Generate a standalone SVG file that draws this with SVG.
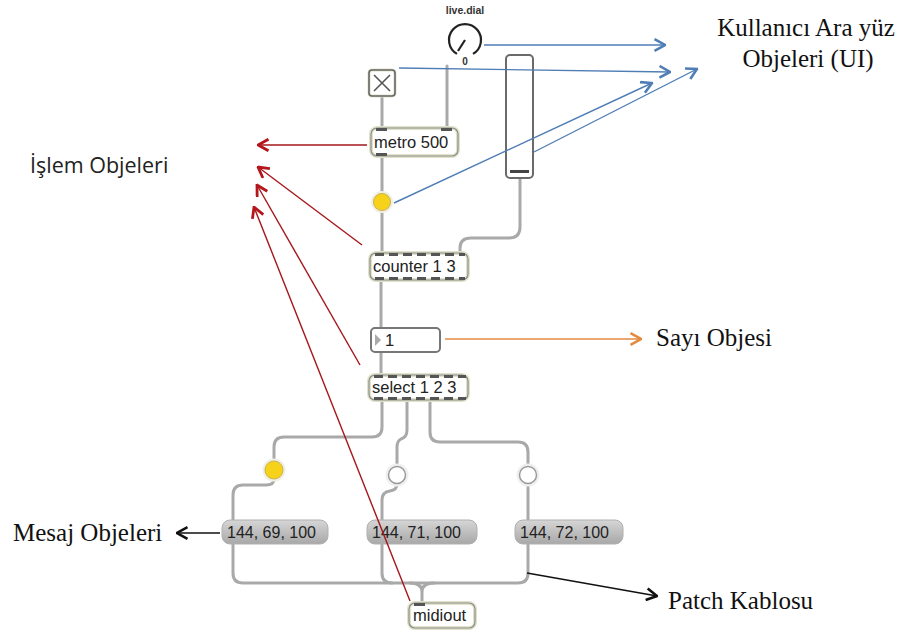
<svg xmlns="http://www.w3.org/2000/svg" width="904" height="634" viewBox="0 0 904 634">
<style>
.cable{fill:none;stroke:#a9a9a9;stroke-width:3;stroke-linecap:round;stroke-linejoin:round}
.objo{fill:#fff;stroke:#e1e2cc;stroke-width:4}
.obji{fill:none;stroke:#8e8e86;stroke-width:1.2}
.io{fill:#555}
.mt{font-family:"Liberation Sans",Arial,sans-serif;font-size:16.5px;fill:#222}
.mm{font-family:"Liberation Sans",Arial,sans-serif;font-size:16px;fill:#222}
.msg{fill:url(#mg);stroke:#b0b0b0;stroke-width:1}
.lbl{font-family:"Liberation Serif","Times New Roman",serif;font-size:25px;fill:#111}
.blue{stroke:#4f7db6;stroke-width:1.4;fill:none}
.red{stroke:#a5161c;stroke-width:1.4;fill:none}
.org{stroke:#e38a3f;stroke-width:1.6;fill:none}
.blk{stroke:#111;stroke-width:1.5;fill:none}
</style>
<defs>
<linearGradient id="mg" x1="0" y1="0" x2="0" y2="1">
<stop offset="0" stop-color="#d6d6d6"/><stop offset="1" stop-color="#a8a8a8"/>
</linearGradient>
<marker id="ab" viewBox="0 0 12 12" refX="11" refY="6" markerWidth="14" markerHeight="14" markerUnits="userSpaceOnUse" orient="auto"><path d="M2,1 L11,6 L2,11" fill="none" stroke="#4f7db6" stroke-width="2.2"/></marker>
<marker id="ar" viewBox="0 0 12 12" refX="1" refY="6" markerWidth="14" markerHeight="14" markerUnits="userSpaceOnUse" orient="auto"><path d="M10,1 L1,6 L10,11" fill="none" stroke="#b5161c" stroke-width="2.4"/></marker>
<marker id="ao" viewBox="0 0 12 12" refX="11" refY="6" markerWidth="14" markerHeight="14" markerUnits="userSpaceOnUse" orient="auto"><path d="M2,1 L11,6 L2,11" fill="none" stroke="#e38a3f" stroke-width="2.2"/></marker>
<marker id="ak" viewBox="0 0 12 12" refX="11" refY="6" markerWidth="14" markerHeight="14" markerUnits="userSpaceOnUse" orient="auto"><path d="M2,1 L11,6 L2,11" fill="none" stroke="#111" stroke-width="2.2"/></marker>
</defs>
<rect width="904" height="634" fill="#fff"/>

<g id="cables">
<path class="cable" d="M382,96 V127"/>
<path class="cable" d="M447,66 V127"/>
<path class="cable" d="M382,157 V253"/>
<path class="cable" d="M520,178 V227 Q520,238 509,238 H471 Q460,238 460,248 V253"/>
<path class="cable" d="M381,280 V328"/>
<path class="cable" d="M381,352 V375"/>
<path class="cable" d="M382,400 V427 Q382,437 372,437 H284 Q274,437 274,447 V461"/>
<path class="cable" d="M274,479 Q274,485 266,485 H243 Q233,485 233,495 V573 Q233,583 243,583 H518 Q528,583 528,573 V484"/>
<path class="cable" d="M407,400 V430 Q407,437 401,439 Q397,441 397,447 V466"/>
<path class="cable" d="M397,484 Q397,490 390,491 Q382,492 382,500 V573 Q382,583 392,583"/>
<path class="cable" d="M430,400 V432 Q430,442 440,442 H518 Q528,442 528,452 V466"/>
<path class="cable" d="M410,583 Q422,583 422,592 V603 M422,592 Q422,583 434,583"/>
</g>

<g id="live-dial">
<text x="465" y="14" text-anchor="middle" font-family="Liberation Sans,Arial,sans-serif" font-size="10.5" font-weight="bold" fill="#333">live.dial</text>
<path d="M457,53.9 A16,16 0 1 1 473,53.9" fill="none" stroke="#222" stroke-width="2.2"/>
<line x1="465" y1="40" x2="458" y2="51" stroke="#222" stroke-width="2.2"/>
<text x="465" y="65" text-anchor="middle" font-family="Liberation Sans,Arial,sans-serif" font-size="10" font-weight="bold" fill="#333">0</text>
</g>

<g id="toggle">
<rect x="369" y="70" width="26" height="26" rx="3" fill="#fff" stroke="#e1e2cc" stroke-width="3"/>
<rect x="369" y="70" width="26" height="26" rx="3" fill="none" stroke="#666" stroke-width="1.6"/>
<path d="M374,75 L390,91 M390,75 L374,91" stroke="#555" stroke-width="1.6"/>
</g>

<g id="slider">
<rect x="506" y="55" width="27" height="123" rx="4" fill="#fff" stroke="#6a6a6a" stroke-width="2"/>
<rect x="510" y="170" width="19" height="3" fill="#444"/>
</g>

<g id="metro">
<rect class="objo" x="371" y="128" width="87" height="28" rx="6"/>
<rect class="obji" x="371" y="128" width="87" height="28" rx="6"/>
<rect class="io" x="376" y="128" width="11" height="3"/>
<rect class="io" x="441" y="128" width="11" height="3"/>
<rect class="io" x="376" y="153" width="11" height="3"/>
<text class="mt" x="374" y="148">metro 500</text>
</g>

<g id="button1">
<circle cx="382" cy="202" r="11" fill="#f0efe3"/>
<circle cx="382" cy="202" r="8.5" fill="#f7d21a" stroke="#c9b24e" stroke-width="1"/>
</g>

<g id="counter">
<rect class="objo" x="370" y="253" width="98" height="27" rx="6"/>
<rect class="obji" x="370" y="253" width="98" height="27" rx="6"/>
<path d="M375,254.5 H465" stroke="#555" stroke-width="3" stroke-dasharray="9,5"/>
<path d="M375,278.5 H465" stroke="#555" stroke-width="3" stroke-dasharray="9,5"/>
<text class="mt" x="373" y="272">counter 1 3</text>
</g>

<g id="number">
<rect x="371" y="328" width="69" height="24" rx="4" fill="#fff" stroke="#777" stroke-width="2"/>
<path d="M375,334 L381,340 L375,346 Z" fill="#aaa"/>
<text class="mt" x="385" y="346">1</text>
</g>

<g id="select">
<rect class="objo" x="369" y="375" width="99" height="25" rx="6"/>
<rect class="obji" x="369" y="375" width="99" height="25" rx="6"/>
<path d="M374,376.5 H466" stroke="#555" stroke-width="3" stroke-dasharray="9,5"/>
<path d="M374,398.5 H466" stroke="#555" stroke-width="3" stroke-dasharray="9,5"/>
<text class="mt" x="372" y="393">select 1 2 3</text>
</g>

<g id="button2">
<circle cx="274" cy="470" r="11.5" fill="#f0efe3"/>
<circle cx="274" cy="470" r="9" fill="#f7d21a" stroke="#c9b24e" stroke-width="1"/>
</g>
<g id="button3">
<circle cx="397" cy="475" r="11.5" fill="#f0f0f0"/>
<circle cx="397" cy="475" r="8.5" fill="#fff" stroke="#9a9a9a" stroke-width="1.5"/>
</g>
<g id="button4">
<circle cx="528" cy="475" r="11.5" fill="#f0f0f0"/>
<circle cx="528" cy="475" r="8.5" fill="#fff" stroke="#9a9a9a" stroke-width="1.5"/>
</g>

<g id="msg1">
<rect class="msg" x="222" y="520" width="106" height="24" rx="8"/>
<text class="mm" x="227" y="538">144, 69, 100</text>
</g>
<g id="msg2">
<rect class="msg" x="367" y="520" width="110" height="24" rx="8"/>
<text class="mm" x="372" y="538">144, 71, 100</text>
</g>
<g id="msg3">
<rect class="msg" x="515" y="520" width="108" height="24" rx="8"/>
<text class="mm" x="520" y="538">144, 72, 100</text>
</g>

<g id="midiout">
<rect class="objo" x="409" y="603" width="66" height="25" rx="6"/>
<rect class="obji" x="409" y="603" width="66" height="25" rx="6"/>
<rect class="io" x="414" y="603" width="11" height="3"/>
<text class="mt" x="413" y="621">midiout</text>
</g>

<g id="annotations">
<path class="blue" d="M484,45 H665" marker-end="url(#ab)"/>
<path class="blue" d="M399,68 L670,72" marker-end="url(#ab)"/>
<path class="blue" d="M394,203 L652,83" marker-end="url(#ab)"/>
<path class="blue" d="M534,152 L697,69" marker-end="url(#ab)"/>
<path class="red" d="M258,145 L367,145" marker-start="url(#ar)"/>
<path class="red" d="M258,167 L362,245" marker-start="url(#ar)"/>
<path class="red" d="M257,185 L360,365" marker-start="url(#ar)"/>
<path class="red" d="M254,207 L410,601" marker-start="url(#ar)"/>
<path class="org" d="M445,339 H641" marker-end="url(#ao)"/>
<path class="blk" d="M220,533 H177" marker-end="url(#ak)"/>
<path class="blk" d="M527,573 L657,596" marker-end="url(#ak)"/>
</g>

<g id="labels">
<text class="lbl" x="806" y="36" text-anchor="middle">Kullanıcı Ara yüz</text>
<text class="lbl" x="808" y="67" text-anchor="middle">Objeleri (UI)</text>
<text x="30" y="173" font-family="'Open Sans','Noto Sans',sans-serif" font-size="21.5" fill="#222">İşlem Objeleri</text>
<text class="lbl" x="656" y="346">Sayı Objesi</text>
<text class="lbl" x="13" y="541">Mesaj Objeleri</text>
<text class="lbl" x="668" y="609">Patch Kablosu</text>
</g>
</svg>
